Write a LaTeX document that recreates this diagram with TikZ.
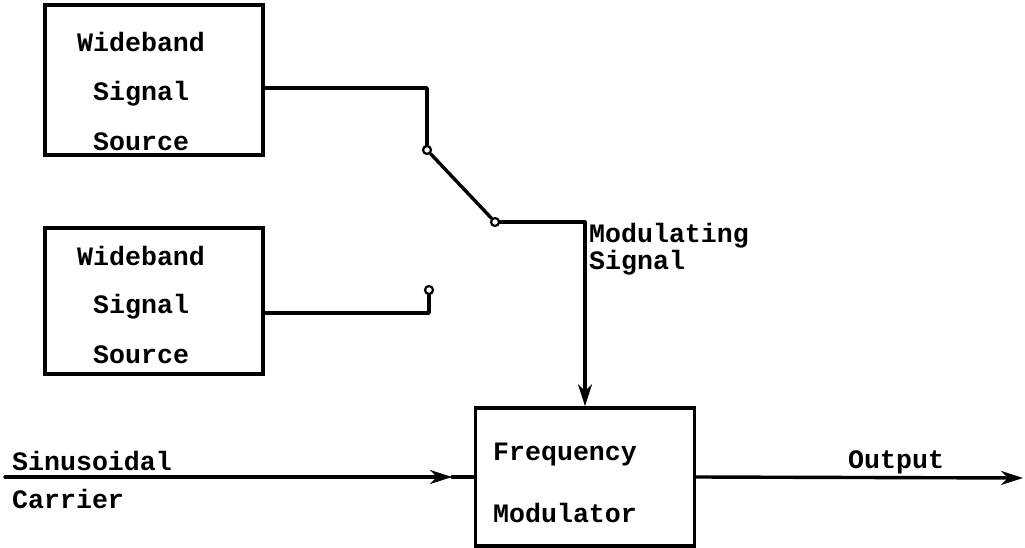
\documentclass[tikz,border=0pt]{standalone}
\usepackage{fontspec}
\setmonofont{Liberation Mono}
\usetikzlibrary{arrows.meta}
\begin{document}
\begin{tikzpicture}[x=1pt,y=-1pt,
  wire/.style={line width=3.4pt,line cap=round,line join=round},
  blk/.style={draw,line width=3.6pt,rectangle,inner sep=0pt},
  lbl/.style={font=\ttfamily\bfseries\fontsize{26.6}{30}\selectfont,anchor=base west,inner sep=0pt},
  contact/.style={draw,circle,line width=2.2pt,fill=white,inner sep=0pt,minimum size=8pt},
  arr/.style={-{Stealth[length=22pt,width=14pt,inset=7pt]}}]
\useasboundingbox (0,0) rectangle (1025,548);
% blocks
\node[blk,minimum width=218pt,minimum height=150pt] (src1) at (154,80) {};
\node[blk,minimum width=218pt,minimum height=146pt] (src2) at (154,301) {};
\node[blk,minimum width=219pt,minimum height=138pt] (mod) at (585,477) {};
% block texts
\node[lbl] (t1a) at (77,52) {Wideband};
\node[lbl] (t1b) at (93,101) {Signal};
\node[lbl] (t1c) at (93,151) {Source};
\node[lbl] (t2a) at (77,265) {Wideband};
\node[lbl] (t2b) at (93,313) {Signal};
\node[lbl] (t2c) at (93,363) {Source};
\node[lbl] (t3a) at (493,460) {Frequency};
\node[lbl] (t3b) at (493,522) {Modulator};
% labels
\node[lbl] (ml1) at (589,243) {Modulating};
\node[lbl] (ml2) at (589,269) {Signal};
\node[lbl] (sc1) at (12,470) {Sinusoidal};
\node[lbl] (sc2) at (12,508) {Carrier};
\node[lbl] (ol) at (848,468) {Output};
% switch
\coordinate (c1) at (427,88);
\coordinate (c2) at (585,222);
\coordinate (c3) at (429,313);
\node[contact] (p1) at (427,150) {};
\node[contact] (p2) at (495,222) {};
\node[contact] (p3) at (429,290) {};
\coordinate (cl) at (5,477);
\coordinate (cm) at (452,477);
\coordinate (out) at (1023,478);
% wires
\draw[wire] ([yshift=-8pt]src1.east) -- (c1) -- (p1);
\draw[wire] (p1) -- (p2);
\draw[wire] (p2) -- (c2);
\draw[wire,arr] (c2) -- (mod.north);
\draw[wire] ([yshift=-12pt]src2.east) -- (c3) -- (p3);
\draw[wire,arr] (cl) -- (cm);
\draw[wire] (cm) -- (mod.west);
\draw[wire,arr] (mod.east) -- (out);
\end{tikzpicture}
\end{document}
